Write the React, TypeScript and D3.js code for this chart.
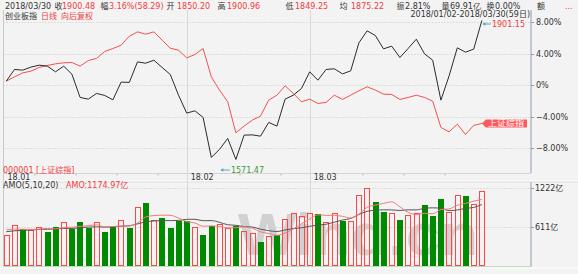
import React from "react";
import * as d3 from "d3";

const dates = [
  "2018-01-02","2018-01-03","2018-01-04","2018-01-05","2018-01-08","2018-01-09","2018-01-10","2018-01-11","2018-01-12",
  "2018-01-15","2018-01-16","2018-01-17","2018-01-18","2018-01-19","2018-01-22","2018-01-23","2018-01-24","2018-01-25",
  "2018-01-26","2018-01-29","2018-01-30","2018-01-31",
  "2018-02-01","2018-02-02","2018-02-05","2018-02-06","2018-02-07","2018-02-08","2018-02-09","2018-02-12","2018-02-13",
  "2018-02-14","2018-02-22","2018-02-23","2018-02-26","2018-02-27","2018-02-28",
  "2018-03-01","2018-03-02","2018-03-05","2018-03-06","2018-03-07","2018-03-08","2018-03-09","2018-03-12","2018-03-13",
  "2018-03-14","2018-03-15","2018-03-16","2018-03-19","2018-03-20","2018-03-21","2018-03-22","2018-03-23","2018-03-26",
  "2018-03-27","2018-03-28","2018-03-29","2018-03-30",
];

// 创业板指 cumulative change, %
const chinextPct = [
  0.51, 1.99, 1.9, 2.28, 2.53, 2.41, 1.69, 2.41, 1.39, -1.56, -1.77, -1.05, -1.3, -1.86, 0.38, 0.35, 2.95, 2.78, 3.16,
  2.24, 1.35, -1.27, -3.54, -3.25, -4.09, -9.15, -8.14, -6.75, -9.41, -6.33, -6.3, -6.46, -4.72, -5.19, -1.77, -1.27,
  -0.42, 1.69, 0.63, 1.99, 2.07, 1.43, 1.81, 5.36, 6.88, 6.29, 4.6, 4.94, 3.5, 4.64, 5.82, 3.97, 3.16, -1.9, 1.18,
  4.73, 4.18, 4.56, 8.2,
];

// 上证综指 cumulative change, %
const shanghaiPct = [
  0.51, 1.05, 1.56, 1.77, 2.24, 2.49, 2.7, 2.83, 2.87, 2.41, 3.12, 3.38, 4.26, 4.64, 5.06, 6.2, 6.75, 6.46, 6.75, 5.7,
  4.68, 4.43, 3.46, 3.88, 4.64, 1.05, -0.63, -2.11, -6.04, -5.19, -4.43, -3.92, -1.9, -1.27, -0.08, -1.05, -2.11,
  -1.77, -2.32, -2.19, -1.27, -1.81, -1.27, -0.72, -0.21, -0.63, -1.14, -1.18, -1.81, -1.56, -1.27, -1.56, -2.03,
  -5.36, -5.91, -4.94, -6.24, -5.1, -4.85,
];

// AMO (成交额, 亿)
const amo = [
  479, 636, 573, 558, 610, 531, 610, 679, 573, 679, 584, 679, 522, 600, 715, 594, 914, 987, 715, 742, 584, 704, 699,
  610, 484, 616, 652, 594, 625, 547, 515, 364, 463, 479, 726, 830, 782, 830, 809, 688, 830, 704, 704, 1108, 1222,
  1002, 845, 820, 715, 793, 820, 950, 782, 1045, 845, 1108, 1092, 966, 1175,
];
// AMO of the sessions before 2018/01/02 (for the moving averages)
const amoBefore = [500, 495, 510, 505, 510, 570, 585, 575, 581];

const pctTicks = [8, 4, 0, -4, -8];
const amoTicks = [1222, 611];
const maPeriods = [5, 10];

const headerLabels = ["2018/03/30", "收", "1900.48", "幅", "3.16%(58.29)", "开", "1850.20", "高", "1900.96", "低", "1849.25", "均", "1875.22", "振", "2.81%", "量", "69.91亿", "换", "0.00%", "额", "..."];
const headerRed = [false, false, true, false, true, false, true, false, true, false, true, false, true, false, false, false, false, false, false, false, true];
const headerX = [5, 54.5, 62, 100.5, 109, 166.5, 177, 217.5, 227, 285.5, 295, 339.5, 351, 396.5, 405, 441.5, 450, 486.5, 495, 537, 565];

const FONT = "'DejaVu Sans', Verdana, sans-serif";
const CJK = "'Noto Sans CJK SC', 'DejaVu Sans', sans-serif";
const RED = "#f23c3c";
const DARK = "#333333";
const GREEN = "#008a00";
const GRID = "#c9c9c9";
const AXIS = "#8e9cae";

export default function App() {
  const xp = d3.scalePoint<string>().domain(dates).range([6.3, 481.9]);
  const step = xp.step();
  const yP = d3.scaleLinear().domain([-8, 8]).range([148.3, 22]);
  const yV = d3.scaleLinear().domain([0, 1222]).range([265.5, 187.7]);

  const left = 3.5;
  const right = 531;
  const mainTop = 10;
  const axisTop = 173;
  const axisBottom = 181;
  const volBottom = 266.5;

  const lineGen = d3
    .line<number>()
    .x((_, i) => xp(dates[i]) as number)
    .y((d) => yP(d));

  const full = [...amoBefore, ...amo];
  const mas = maPeriods.map((n) =>
    amo.map((_, i) => d3.mean(full.slice(i + amoBefore.length - n + 1, i + amoBefore.length + 1)) as number)
  );
  const maLine = d3
    .line<number>()
    .x((_, i) => xp(dates[i]) as number)
    .y((d) => yV(d))
    .curve(d3.curveMonotoneX);

  const parse = d3.timeParse("%Y-%m-%d");
  const parsed = dates.map((d) => parse(d) as Date);
  const monthStarts = parsed
    .map((d, i) => ({ i, d }))
    .filter(({ i, d }) => i === 0 || d.getMonth() !== parsed[i - 1].getMonth());
  const mondays = parsed
    .map((d, i) => ({ i, d }))
    .filter(({ i, d }) => i > 0 && d.getDay() === 1 && d.getMonth() === parsed[i - 1].getMonth());

  const up = chinextPct.map((v, i) => (i === 0 ? v >= 0 : v >= chinextPct[i - 1]));
  const bw = step * 0.68;

  const maxIdx = d3.maxIndex(chinextPct);
  const minIdx = d3.minIndex(chinextPct);
  const last = dates.length - 1;
  const lastX = xp(dates[last]) as number;
  const lastShY = yP(shanghaiPct[last]);

  const fmtPct = (v: number) => (v === 0 ? "0%" : d3.format(".2f")(v) + "%");

  return (
    <svg
      width={578}
      height={274}
      viewBox="0 0 578 274"
      style={{ position: "fixed", left: 0, top: 0, display: "block" }}
    >
      <rect x={0} y={0} width={578} height={274} fill="#f3f3f3" />

      {/* header row */}
      {headerLabels.map((t, i) => (
        <text
          key={"h" + i}
          x={headerX[i]}
          y={8.5}
          fontSize={8}
          fill={headerRed[i] ? RED : DARK}
          fontFamily={/^[^\x00-\x7f]$/.test(t) ? CJK : FONT}
        >
          {t}
        </text>
      ))}

      {/* watermark */}
      <text
        x={238}
        y={255}
        fontSize={59}
        fontWeight="bold"
        fontFamily="'Liberation Sans', Arial, sans-serif"
        fill="#d1d1d1"
        textLength={240}
        lengthAdjust="spacingAndGlyphs"
      >
        Wind.cn
      </text>

      {/* frame lines */}
      <line x1={left} x2={left} y1={mainTop} y2={volBottom} stroke="#c8c8c8" />
      <line x1={right} x2={right} y1={mainTop} y2={axisTop} stroke={AXIS} />
      <line x1={right} x2={right} y1={axisBottom} y2={volBottom} stroke={AXIS} />
      <line x1={left} x2={right} y1={axisTop + 0.5} y2={axisTop + 0.5} stroke="#d4d4d4" />
      <line x1={left} x2={578} y1={axisBottom} y2={axisBottom} stroke="#fbfbfb" strokeWidth={1.5} />
      <line x1={left} x2={578} y1={axisBottom + 1} y2={axisBottom + 1} stroke="#dedede" />
      <line x1={left} x2={right} y1={volBottom} y2={volBottom} stroke="#b9deb9" />
      <line x1={0} x2={578} y1={volBottom + 1.5} y2={volBottom + 1.5} stroke="#fafafa" strokeWidth={1.5} />

      {/* month lines */}
      {monthStarts
        .filter((m) => m.i > 0)
        .map((m) => (
          <line
            key={m.i}
            x1={Math.round(xp(dates[m.i]) as number) + 0.5}
            x2={Math.round(xp(dates[m.i]) as number) + 0.5}
            y1={mainTop}
            y2={volBottom}
            stroke="#d9d9d9"
          />
        ))}
      {monthStarts.map((m) => (
        <text
          key={"ml" + m.i}
          x={(m.i === 0 ? left : (xp(dates[m.i]) as number)) + 4}
          y={180}
          fontSize={8}
          fontFamily={FONT}
          fill={DARK}
        >
          {d3.timeFormat("%y.%m")(m.d)}
        </text>
      ))}
      {mondays.map((m) => (
        <line
          key={"mt" + m.i}
          x1={(xp(dates[m.i]) as number) - step / 2}
          x2={(xp(dates[m.i]) as number) - step / 2}
          y1={axisTop + 1}
          y2={axisTop + 2.5}
          stroke="#b0b0b0"
        />
      ))}

      {/* pct grid + labels */}
      {pctTicks.map((t) => (
        <g key={t}>
          <line
            x1={left}
            x2={right}
            y1={Math.round(yP(t)) + 0.5}
            y2={Math.round(yP(t)) + 0.5}
            stroke={GRID}
            strokeDasharray="1,2"
          />
          <line x1={right} x2={right + 3} y1={Math.round(yP(t)) + 0.5} y2={Math.round(yP(t)) + 0.5} stroke={AXIS} />
          <text x={536} y={yP(t) + 3} fontSize={8} fontFamily={FONT} fill={DARK}>
            {fmtPct(t)}
          </text>
        </g>
      ))}

      {/* amo grid + labels */}
      {amoTicks.map((t) => (
        <g key={t}>
          <line
            x1={left}
            x2={right}
            y1={Math.round(yV(t)) + 0.5}
            y2={Math.round(yV(t)) + 0.5}
            stroke={GRID}
            strokeDasharray="1,2"
          />
          <line x1={right} x2={right + 3} y1={Math.round(yV(t)) + 0.5} y2={Math.round(yV(t)) + 0.5} stroke={AXIS} />
          <text x={535} y={yV(t) + 3} fontSize={8} fontFamily={FONT} fill={DARK}>
            {t}
            <tspan fontFamily={CJK}>亿</tspan>
          </text>
        </g>
      ))}

      {/* second header row & range */}
      <text x={5} y={18.5} fontSize={8} fontFamily={CJK} fill={DARK}>创业板指</text>
      <text x={41} y={18.5} fontSize={8} fontFamily={CJK} fill={RED}>日线</text>
      <text x={61} y={18.5} fontSize={8} fontFamily={CJK} fill={RED}>向后复权</text>
      <text x={530} y={17} fontSize={8} fontFamily={FONT} fill={DARK} textAnchor="end">
        {dates[0].replace(/-/g, "/")}-{dates[last].replace(/-/g, "/")}({dates.length}
        <tspan fontFamily={CJK}>日</tspan>)
      </text>

      {/* lines */}
      <path d={lineGen(shanghaiPct) as string} fill="none" stroke="#f45050" strokeWidth={1} />
      <path d={lineGen(chinextPct) as string} fill="none" stroke="#2b2b2b" strokeWidth={1} />

      {/* max / min annotations */}
      <g>
        <line x1={(xp(dates[maxIdx]) as number) + 1} x2={(xp(dates[maxIdx]) as number) + 9} y1={24} y2={24} stroke="#55a9c6" />
        <path d={`M${(xp(dates[maxIdx]) as number) + 0.5},24 l3,-1.8 v3.6 z`} fill="#55a9c6" />
        <text x={(xp(dates[maxIdx]) as number) + 10} y={27} fontSize={8} fontFamily={FONT} fill={RED}>
          1901.15
        </text>
      </g>
      <g>
        <line x1={(xp(dates[minIdx]) as number) - 15} x2={(xp(dates[minIdx]) as number) - 6} y1={170} y2={170} stroke="#55a9c6" />
        <path d={`M${(xp(dates[minIdx]) as number) - 15.5},170 l3,-1.8 v3.6 z`} fill="#55a9c6" />
        <text x={(xp(dates[minIdx]) as number) - 5} y={173} fontSize={8} fontFamily={FONT} fill="#3a9a3a">
          1571.47
        </text>
      </g>

      {/* 上证综指 tag */}
      <path
        d={`M${lastX},${lastShY} L${lastX + 4},${lastShY - 4} H527 V${lastShY + 4} H${lastX + 4} Z`}
        fill="#ff5a5a"
      />
      <text x={488} y={lastShY + 2.8} fontSize={8} fontFamily={CJK} fill="#ffffff" textLength={36} lengthAdjust="spacingAndGlyphs">
        上证综指
      </text>

      <text x={3} y={172.5} fontSize={8} fontFamily={FONT} fill={RED}>
        000001 [<tspan fontFamily={CJK}>上证综指</tspan>]
      </text>

      {/* AMO legend */}
      <text x={3} y={187.5} fontSize={8} fontFamily={FONT} fill={DARK}>AMO(5,10,20)</text>
      <text x={66} y={187.5} fontSize={8} fontFamily={FONT} fill={RED}>
        AMO:{d3.format(".2f")(1174.97)}
        <tspan fontFamily={CJK}>亿</tspan>
      </text>

      {/* volume bars */}
      {amo.map((v, i) => {
        const cx = xp(dates[i]) as number;
        const x0 = Math.round(cx - bw / 2);
        const yTop = Math.round(yV(v));
        const yB = Math.round(yV(0));
        return up[i] ? (
          <rect
            key={i}
            x={x0 + 0.5}
            y={yTop + 0.5}
            width={Math.round(bw) - 1}
            height={yB - yTop - 1}
            fill="none"
            stroke="#ff4545"
            strokeWidth={1}
          />
        ) : (
          <rect key={i} x={x0} y={yTop} width={Math.round(bw)} height={yB - yTop} fill={GREEN} />
        );
      })}

      {/* moving averages */}
      <path d={maLine(mas[1]) as string} fill="none" stroke="#555555" strokeWidth={1} />
      <path d={maLine(mas[0]) as string} fill="none" stroke="#f27a7a" strokeWidth={1} />
    </svg>
  );
}
